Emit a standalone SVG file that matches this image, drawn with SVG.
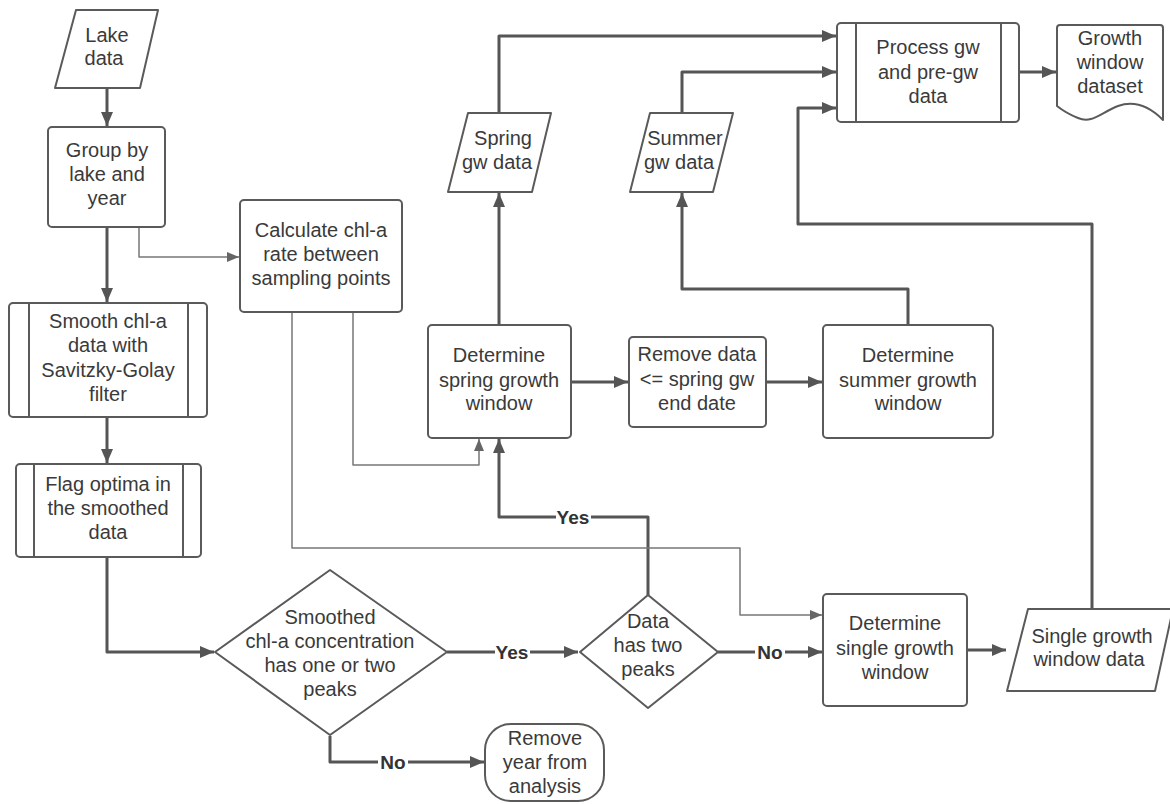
<svg xmlns="http://www.w3.org/2000/svg" width="1170" height="804" viewBox="0 0 1170 804">
<defs>
<style>
.n{fill:#fff;stroke:#5a5a5a;stroke-width:2;stroke-linejoin:round}
.t{font-family:"Liberation Sans",Arial,sans-serif;font-size:20px;fill:#3a3a3a;text-anchor:middle}
.b{font-family:"Liberation Sans",Arial,sans-serif;font-size:19px;font-weight:bold;fill:#333;text-anchor:middle}
.k{fill:none;stroke:#555;stroke-width:3;stroke-linejoin:round}
.h{fill:none;stroke:#777;stroke-width:1.5;stroke-linejoin:round}
.lb{fill:#fff}
</style>
<marker id="a" markerUnits="userSpaceOnUse" markerWidth="14" markerHeight="12" refX="14" refY="6" orient="auto"><path d="M0,0L14,6L0,12z" fill="#555"/></marker>
<marker id="s" markerUnits="userSpaceOnUse" markerWidth="12" markerHeight="10" refX="12" refY="5" orient="auto"><path d="M0,0L12,5L0,10z" fill="#666"/></marker>
</defs>
<g id="connectors">
<path class="k" d="M107,89V126" marker-end="url(#a)"/>
<path class="k" d="M107,228V302" marker-end="url(#a)"/>
<path class="h" d="M139,228V257H239" marker-end="url(#s)"/>
<path class="k" d="M107,418V463" marker-end="url(#a)"/>
<path class="k" d="M107,558V652H214" marker-end="url(#a)"/>
<path class="k" d="M447,652H578" marker-end="url(#a)"/>
<path class="k" d="M330,736V762H484" marker-end="url(#a)"/>
<path class="k" d="M718,652H822" marker-end="url(#a)"/>
<path class="k" d="M648,595V517H499V439" marker-end="url(#a)"/>
<path class="k" d="M499,325V193" marker-end="url(#a)"/>
<path class="k" d="M571,382H628" marker-end="url(#a)"/>
<path class="k" d="M766,382H822" marker-end="url(#a)"/>
<path class="k" d="M908,325V289H682V193" marker-end="url(#a)"/>
<path class="k" d="M499,113V36H836" marker-end="url(#a)"/>
<path class="k" d="M682,113V72H836" marker-end="url(#a)"/>
<path class="k" d="M967,650H1006" marker-end="url(#a)"/>
<path class="k" d="M1092,609V224H798V108H836" marker-end="url(#a)"/>
<path class="k" d="M1019,72H1056" marker-end="url(#a)"/>
<path class="h" d="M292,313V548H740V615H822" marker-end="url(#s)"/>
<path class="h" d="M353,313V465H479V439" marker-end="url(#s)"/>
<rect class="lb" x="495" y="640" width="35" height="22"/>
<text class="b" x="512" y="659">Yes</text>
<rect class="lb" x="378" y="750" width="30" height="22"/>
<text class="b" x="393" y="769">No</text>
<rect class="lb" x="755" y="640" width="30" height="22"/>
<text class="b" x="770" y="659">No</text>
<rect class="lb" x="556" y="505" width="35" height="22"/>
<text class="b" x="573" y="524">Yes</text>
</g>
<g id="lake-data">
<polygon class="n" points="76,10 158,10 140,88 55,88"/>
<text class="t" x="107" y="42">Lake</text>
<text class="t" x="104" y="65">data</text>
</g>
<g id="group">
<rect class="n" x="48" y="127" width="117" height="100" rx="4"/>
<text class="t" x="107" y="157">Group by</text>
<text class="t" x="107" y="181">lake and</text>
<text class="t" x="107" y="205">year</text>
</g>
<g id="calculate">
<rect class="n" x="240" y="200" width="162" height="112" rx="4"/>
<text class="t" x="321" y="237">Calculate chl-a</text>
<text class="t" x="321" y="261">rate between</text>
<text class="t" x="321" y="285">sampling points</text>
</g>
<g id="smooth">
<rect class="n" x="9" y="303" width="198" height="114" rx="4"/>
<path class="n" d="M29,303V417M188,303V417"/>
<text class="t" x="108" y="328">Smooth chl-a</text>
<text class="t" x="108" y="352">data with</text>
<text class="t" x="108" y="377">Savitzky-Golay</text>
<text class="t" x="108" y="401">filter</text>
</g>
<g id="flag">
<rect class="n" x="16" y="464" width="185" height="93" rx="4"/>
<path class="n" d="M34,464V557M183,464V557"/>
<text class="t" x="108" y="491">Flag optima in</text>
<text class="t" x="108" y="515">the smoothed</text>
<text class="t" x="108" y="539">data</text>
</g>
<g id="decision-peaks">
<polygon class="n" points="330,570 447,652 330,735 215,652"/>
<text class="t" x="330" y="624">Smoothed</text>
<text class="t" x="330" y="648">chl-a concentration</text>
<text class="t" x="330" y="672">has one or two</text>
<text class="t" x="330" y="696">peaks</text>
</g>
<g id="decision-two">
<polygon class="n" points="648,595 718,652 648,708 580,652"/>
<text class="t" x="648" y="628">Data</text>
<text class="t" x="648" y="652">has two</text>
<text class="t" x="648" y="676">peaks</text>
</g>
<g id="remove-year">
<rect class="n" x="485" y="724" width="119" height="77" rx="26"/>
<text class="t" x="545" y="745">Remove</text>
<text class="t" x="545" y="769">year from</text>
<text class="t" x="545" y="793">analysis</text>
</g>
<g id="single-window">
<rect class="n" x="823" y="594" width="144" height="112" rx="4"/>
<text class="t" x="895" y="630">Determine</text>
<text class="t" x="895" y="655">single growth</text>
<text class="t" x="895" y="679">window</text>
</g>
<g id="single-data">
<polygon class="n" points="1028,609 1173,609 1155,691 1007,691"/>
<text class="t" x="1092" y="643">Single growth</text>
<text class="t" x="1089" y="666">window data</text>
</g>
<g id="spring-window">
<rect class="n" x="428" y="325" width="143" height="113" rx="4"/>
<text class="t" x="499" y="362">Determine</text>
<text class="t" x="499" y="387">spring growth</text>
<text class="t" x="499" y="410">window</text>
</g>
<g id="remove-data">
<rect class="n" x="629" y="337" width="137" height="90" rx="4"/>
<text class="t" x="697" y="361">Remove data</text>
<text class="t" x="697" y="386">&lt;= spring gw</text>
<text class="t" x="697" y="410">end date</text>
</g>
<g id="summer-window">
<rect class="n" x="823" y="325" width="170" height="113" rx="4"/>
<text class="t" x="908" y="362">Determine</text>
<text class="t" x="908" y="387">summer growth</text>
<text class="t" x="908" y="410">window</text>
</g>
<g id="spring-data">
<polygon class="n" points="468,113 551,113 532,192 448,192"/>
<text class="t" x="503" y="145">Spring</text>
<text class="t" x="497" y="169">gw data</text>
</g>
<g id="summer-data">
<polygon class="n" points="650,113 733,113 713,192 630,192"/>
<text class="t" x="685" y="145">Summer</text>
<text class="t" x="679" y="169">gw data</text>
</g>
<g id="process">
<rect class="n" x="837" y="23" width="182" height="99" rx="4"/>
<path class="n" d="M856,23V122M1001,23V122"/>
<text class="t" x="928" y="54">Process gw</text>
<text class="t" x="928" y="79">and pre-gw</text>
<text class="t" x="928" y="103">data</text>
</g>
<g id="dataset">
<path class="n" d="M1060,25H1160Q1163,25 1163,28V120C1150,107 1135,100 1118,106C1100,113 1092,124 1078,118C1068,114 1062,110 1057,106V28Q1057,25 1060,25Z"/>
<text class="t" x="1110" y="45">Growth</text>
<text class="t" x="1110" y="69">window</text>
<text class="t" x="1110" y="93">dataset</text>
</g>
</svg>
